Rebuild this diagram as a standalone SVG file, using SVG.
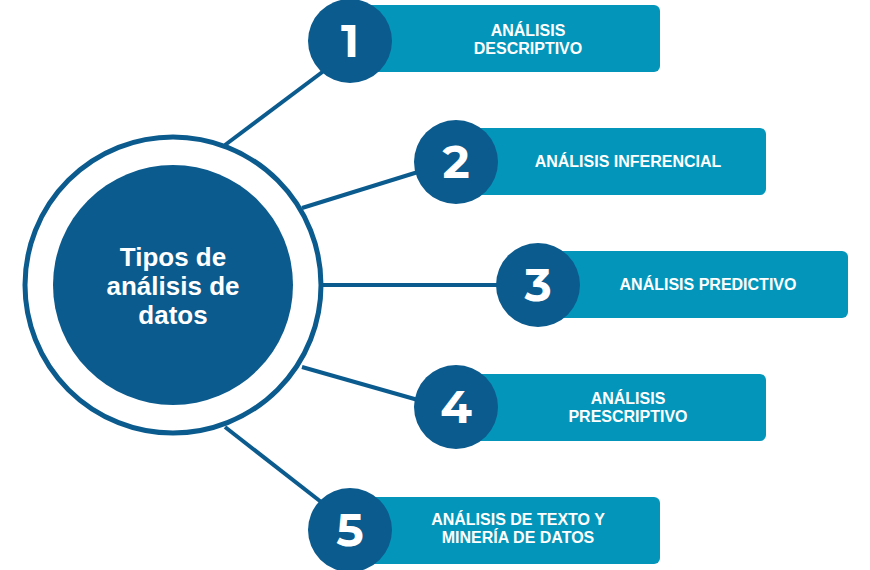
<svg xmlns="http://www.w3.org/2000/svg" width="870" height="570" viewBox="0 0 870 570">
<style>
.bar{fill:#0396ba}
.num{fill:#0b5b8e}
.n{font-family:"Montserrat","Liberation Sans",sans-serif;font-weight:bold;font-size:46px;fill:#fff;text-anchor:middle}
.t{font-family:"Liberation Sans",sans-serif;font-weight:bold;font-size:16px;fill:#fff;text-anchor:middle}
.c{stroke:#0b5b8e;stroke-width:4;fill:none}
</style>
<rect width="870" height="570" fill="#fff"/>
<g id="connectors">
<line class="c" x1="225" y1="145" x2="325" y2="70"/>
<line class="c" x1="302" y1="208" x2="418" y2="172"/>
<line class="c" x1="322" y1="285" x2="500" y2="285"/>
<line class="c" x1="302" y1="367" x2="418" y2="400"/>
<line class="c" x1="225" y1="427" x2="325" y2="505"/>
</g>
<g id="center">
<circle cx="173" cy="285" r="148" fill="#fff" stroke="#0b5b8e" stroke-width="5"/>
<circle cx="173" cy="285" r="120" fill="#0b5b8e"/>
<text class="t" style="font-size:26px" x="173" y="266">Tipos de</text>
<text class="t" style="font-size:26px" x="173" y="295">análisis de</text>
<text class="t" style="font-size:26px" x="173" y="324">datos</text>
</g>
<g id="n1"><rect class="bar" x="350" y="5" width="310" height="67" rx="6"/><circle class="num" cx="350" cy="41" r="42"/><text class="n" x="350" y="57">1</text><text class="t" x="528" y="36">ANÁLISIS</text><text class="t" x="528" y="54">DESCRIPTIVO</text></g>
<g id="n2"><rect class="bar" x="456" y="128" width="310" height="67" rx="6"/><circle class="num" cx="456" cy="162" r="42"/><text class="n" x="456" y="178">2</text><text class="t" x="628" y="167">ANÁLISIS INFERENCIAL</text></g>
<g id="n3"><rect class="bar" x="538" y="251" width="310" height="67" rx="6"/><circle class="num" cx="538" cy="285" r="42"/><text class="n" x="538" y="301">3</text><text class="t" x="708" y="290">ANÁLISIS PREDICTIVO</text></g>
<g id="n4"><rect class="bar" x="456" y="374" width="310" height="67" rx="6"/><circle class="num" cx="456" cy="407" r="42"/><text class="n" x="456" y="423">4</text><text class="t" x="628" y="404">ANÁLISIS</text><text class="t" x="628" y="422">PRESCRIPTIVO</text></g>
<g id="n5"><rect class="bar" x="350" y="497" width="310" height="67" rx="6"/><circle class="num" cx="350" cy="530" r="42"/><text class="n" x="350" y="546">5</text><text class="t" x="518" y="525">ANÁLISIS DE TEXTO Y</text><text class="t" x="518" y="543">MINERÍA DE DATOS</text></g>
</svg>
